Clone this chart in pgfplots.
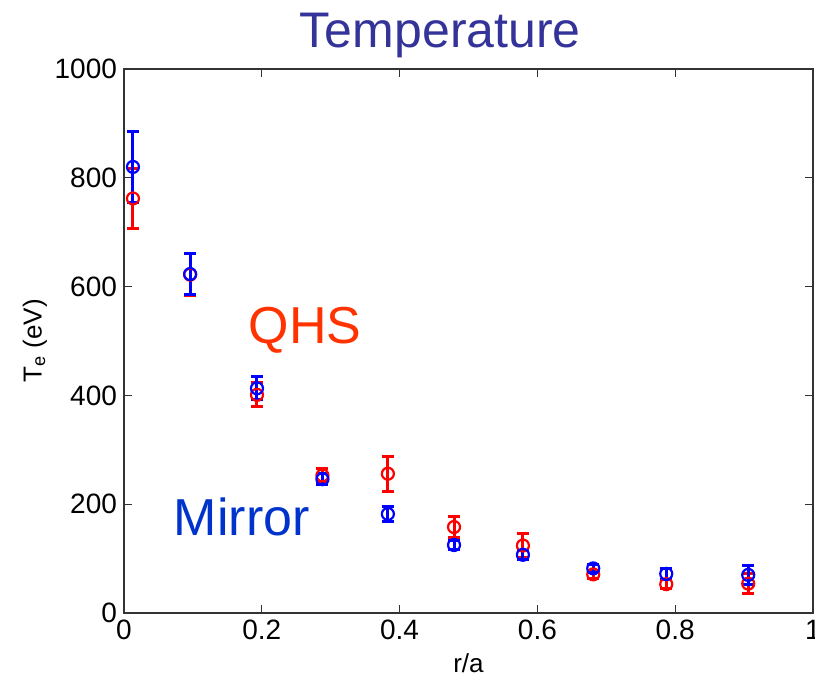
\documentclass[border=0pt]{standalone}
\usepackage{pgfplots}
\pgfplotsset{compat=1.18}
\usepackage{fontspec}
\setmainfont{Liberation Sans}
\definecolor{titleblue}{RGB}{51,51,153}
\definecolor{qhscol}{RGB}{255,51,0}
\definecolor{mircol}{RGB}{0,51,204}
\begin{document}
\begin{tikzpicture}
\begin{axis}[
  scale only axis,
  width=344.5pt, height=272pt,
  xmin=0, xmax=1, ymin=0, ymax=1000,
  xtick={0,0.2,0.4,0.6,0.8,1},
  ytick={0,200,400,600,800,1000},
  xticklabels={0,0.2,0.4,0.6,0.8,1},
  yticklabels={0,200,400,600,800,1000},
  tick align=inside,
  major tick length=4pt,
  axis line style={black!80, line width=0.7pt},
  tick style={black!80, line width=0.6pt},
  ticklabel style={font=\fontsize{14}{16}\selectfont},
  xlabel={r/a}, ylabel={T$_{\mathrm{e}}$ (eV)},
  xlabel style={font=\fontsize{13}{15}\selectfont, yshift=0pt},
  ylabel style={font=\fontsize{13}{15}\selectfont, yshift=-3pt},
  clip=false,
]
\addplot+[only marks, red, line width=1.1pt, mark=o, mark size=3pt,
  mark options={red, line width=1.1pt},
  error bars/.cd, y dir=both, y explicit,
  error mark=|,
  error bar style={red, line width=1.5pt},
  error mark options={red, line width=1.5pt, mark size=3pt}]
  table[x=x, y=y, y error=e] {
x y e
0.013 762 55
0.096 622 38
0.193 401 22
0.288 253 13
0.383 256 32
0.479 158 20
0.579 124 22
0.681 71 8
0.787 53 8
0.906 54 18
};
\addplot+[only marks, blue, line width=1.1pt, mark=o, mark size=3pt,
  mark options={blue, line width=1.1pt},
  error bars/.cd, y dir=both, y explicit,
  error mark=|,
  error bar style={blue, line width=1.5pt},
  error mark options={blue, line width=1.5pt, mark size=3pt}]
  table[x=x, y=y, y error=e] {
x y e
0.013 820 66
0.096 623 38
0.193 413 21
0.288 246 10
0.383 182 13
0.479 125 8
0.579 107 8
0.681 82 8
0.787 72 10
0.906 70 18
};
\node[anchor=base, text=titleblue, font=\fontsize{25}{30}\selectfont] at (rel axis cs:0.459,1.0386) {Temperature};
\node[text=qhscol, font=\fontsize{26}{30}\selectfont] at (axis cs:0.263,520) {QHS};
\node[text=mircol, font=\fontsize{26}{30}\selectfont] at (axis cs:0.171,177) {Mirror};
\end{axis}
\pgfresetboundingbox
\path (current axis.south west) ++(-62pt,-35.5pt) rectangle ++(407.5pt,342pt);
\end{tikzpicture}
\end{document}
